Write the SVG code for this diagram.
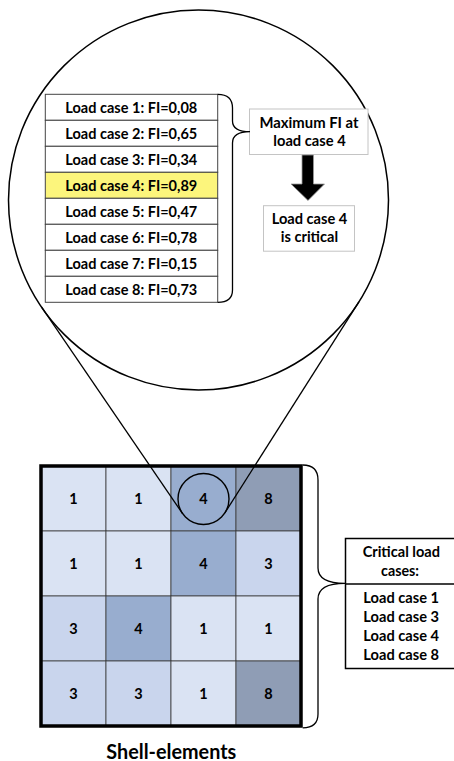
<svg xmlns="http://www.w3.org/2000/svg" width="454" height="761" viewBox="0 0 454 761">
<style>
text{font-family:Lato,"Open Sans","Liberation Sans",sans-serif;font-weight:700;fill:#000;text-anchor:middle}
.t{font-size:15px}
.n{font-size:14.5px}
.row{fill:#fff;stroke:#444;stroke-width:1}
.gbox{fill:#fff;stroke:#c4c4c4;stroke-width:1}
.line{fill:none;stroke:#000;stroke-width:1.3}
.brace{fill:none;stroke:#000;stroke-width:1.3}
.c1{fill:#dae3f3}.c3{fill:#c9d5ed}.c4{fill:#98adcf}.c8{fill:#8f9db5}
.cell{stroke:#3a3a3a;stroke-width:0.8}
</style>
<g id="zoom-circle">
<circle cx="198.5" cy="200" r="190" fill="#fff" stroke="#000" stroke-width="1.5"/>
</g>
<g id="load-case-table">
<rect class="row" x="45.3" y="94.3" width="172.4" height="26"/>
<rect class="row" x="45.3" y="120.3" width="172.4" height="26"/>
<rect class="row" x="45.3" y="146.3" width="172.4" height="26"/>
<rect class="row" x="45.3" y="172.3" width="172.4" height="26" style="fill:#fcf57c"/>
<rect class="row" x="45.3" y="198.3" width="172.4" height="26"/>
<rect class="row" x="45.3" y="224.3" width="172.4" height="26"/>
<rect class="row" x="45.3" y="250.3" width="172.4" height="26"/>
<rect class="row" x="45.3" y="276.3" width="172.4" height="26"/>
<text class="t" x="131.3" y="113" textLength="132" lengthAdjust="spacingAndGlyphs">Load case 1: FI=0,08</text>
<text class="t" x="131.3" y="139" textLength="132" lengthAdjust="spacingAndGlyphs">Load case 2: FI=0,65</text>
<text class="t" x="131.3" y="165" textLength="132" lengthAdjust="spacingAndGlyphs">Load case 3: FI=0,34</text>
<text class="t" x="131.3" y="191" textLength="132" lengthAdjust="spacingAndGlyphs">Load case 4: FI=0,89</text>
<text class="t" x="131.3" y="217" textLength="132" lengthAdjust="spacingAndGlyphs">Load case 5: FI=0,47</text>
<text class="t" x="131.3" y="243" textLength="132" lengthAdjust="spacingAndGlyphs">Load case 6: FI=0,78</text>
<text class="t" x="131.3" y="269" textLength="132" lengthAdjust="spacingAndGlyphs">Load case 7: FI=0,15</text>
<text class="t" x="131.3" y="295" textLength="132" lengthAdjust="spacingAndGlyphs">Load case 8: FI=0,73</text>
</g>
<g id="max-fi-box">
<rect class="gbox" x="249.5" y="109" width="118.5" height="45.5"/>
<text class="t" x="309" y="127.5" textLength="99" lengthAdjust="spacingAndGlyphs">Maximum FI at</text>
<text class="t" x="309.5" y="146.3" textLength="72.4" lengthAdjust="spacingAndGlyphs">load case 4</text>
</g>
<g id="critical-box">
<rect class="gbox" x="263.5" y="205.7" width="91" height="45.5"/>
<text class="t" x="309.5" y="223.6" textLength="75.6" lengthAdjust="spacingAndGlyphs">Load case 4</text>
<text class="t" x="309.4" y="242.3" textLength="57.3" lengthAdjust="spacingAndGlyphs">is critical</text>
</g>
<g id="shell-grid">
<rect class="c1 cell" x="41" y="466" width="65" height="65"/>
<rect class="c1 cell" x="106" y="466" width="65" height="65"/>
<rect class="c4 cell" x="171" y="466" width="65" height="65"/>
<rect class="c8 cell" x="236" y="466" width="65" height="65"/>
<rect class="c1 cell" x="41" y="531" width="65" height="65"/>
<rect class="c1 cell" x="106" y="531" width="65" height="65"/>
<rect class="c4 cell" x="171" y="531" width="65" height="65"/>
<rect class="c3 cell" x="236" y="531" width="65" height="65"/>
<rect class="c3 cell" x="41" y="596" width="65" height="65"/>
<rect class="c4 cell" x="106" y="596" width="65" height="65"/>
<rect class="c1 cell" x="171" y="596" width="65" height="65"/>
<rect class="c1 cell" x="236" y="596" width="65" height="65"/>
<rect class="c3 cell" x="41" y="661" width="65" height="65"/>
<rect class="c3 cell" x="106" y="661" width="65" height="65"/>
<rect class="c1 cell" x="171" y="661" width="65" height="65"/>
<rect class="c8 cell" x="236" y="661" width="65" height="65"/>
<rect x="41" y="466" width="260" height="260" fill="none" stroke="#000" stroke-width="3.5"/>
<text class="n" x="73.5" y="504">1</text>
<text class="n" x="138.5" y="504">1</text>
<text class="n" x="203.5" y="504">4</text>
<text class="n" x="268.5" y="504">8</text>
<text class="n" x="73.5" y="569">1</text>
<text class="n" x="138.5" y="569">1</text>
<text class="n" x="203.5" y="569">4</text>
<text class="n" x="268.5" y="569">3</text>
<text class="n" x="73.5" y="634">3</text>
<text class="n" x="138.5" y="634">4</text>
<text class="n" x="203.5" y="634">1</text>
<text class="n" x="268.5" y="634">1</text>
<text class="n" x="73.5" y="699">3</text>
<text class="n" x="138.5" y="699">3</text>
<text class="n" x="203.5" y="699">1</text>
<text class="n" x="268.5" y="699">8</text>
<circle cx="203.5" cy="499" r="25.5" fill="none" stroke="#000" stroke-width="1.4"/>
</g>
<g id="critical-list">
<rect x="345.5" y="538.5" width="110" height="130" fill="#fff" stroke="#000" stroke-width="1.5"/>
<line x1="345.5" y1="584" x2="455" y2="584" stroke="#000" stroke-width="1.3"/>
<text class="t" x="401.3" y="556.9" textLength="77.3" lengthAdjust="spacingAndGlyphs">Critical load</text>
<text class="t" x="400" y="576.2" textLength="38" lengthAdjust="spacingAndGlyphs">cases:</text>
<text class="t" x="401.2" y="602.5" textLength="75.7" lengthAdjust="spacingAndGlyphs">Load case 1</text>
<text class="t" x="401.2" y="621.9" textLength="75.7" lengthAdjust="spacingAndGlyphs">Load case 3</text>
<text class="t" x="401.2" y="640.9" textLength="75.7" lengthAdjust="spacingAndGlyphs">Load case 4</text>
<text class="t" x="401.2" y="660.2" textLength="75.7" lengthAdjust="spacingAndGlyphs">Load case 8</text>
</g>
<g id="caption">
<text x="171.3" y="758.5" style="font-size:20px" textLength="130" lengthAdjust="spacingAndGlyphs">Shell-elements</text>
</g>
<g id="connectors">
<line class="line" x1="41.6" y1="307.2" x2="182.4" y2="513.4"/>
<line class="line" x1="358.9" y1="301.9" x2="225" y2="512.7"/>
<path class="brace" d="M217.7,94.3 C228,94.3 232.5,99 232.5,108 L232.5,121 C232.5,128 238,131.7 250,131.7 C238,131.7 232.5,136 232.5,143 L232.5,290 C232.5,298 228,302.3 217.7,302.3"/>
<path class="brace" d="M302.7,465 C313,465 318,470 318,480 L318,568 C318,577 325,583.3 345,583.3 C325,583.3 318,590 318,599 L318,714 C318,723 313,727.8 302.7,727.8"/>
<path d="M302,155 L313.5,155 L313.5,184 L324.5,184 L308,200.5 L291,184 L302,184 Z" fill="#000" stroke="#9a9a9a" stroke-width="0.8"/>
</g>
</svg>
